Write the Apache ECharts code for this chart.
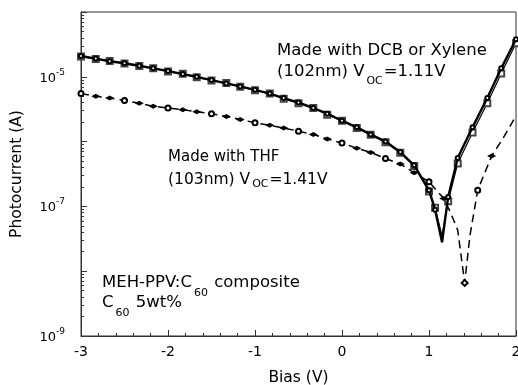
<!DOCTYPE html>
<html><head><meta charset="utf-8">
<script src="https://cdn.jsdelivr.net/npm/echarts@6/dist/echarts.min.js"></script>
<style>html,body{margin:0;padding:0;background:#fff}#c{width:518px;height:385px}</style>
</head><body><div id="c"></div>
<script>
// Bias values (V) for the DCB / Xylene curves
const biasSolid = [-3.00,-2.83,-2.67,-2.50,-2.33,-2.17,-2.00,-1.83,-1.67,-1.50,-1.33,-1.17,-1.00,-0.83,-0.67,-0.50,-0.33,-0.17,0.00,0.17,0.33,0.50,0.67,0.83,1.00,1.07,1.15,1.22,1.33,1.50,1.67,1.83,2.00];
// Photocurrent (A), DCB (circles)
const currentDCB = [2.09e-5,1.91e-5,1.74e-5,1.62e-5,1.48e-5,1.35e-5,1.23e-5,1.10e-5,1.00e-5,8.9e-6,7.9e-6,7.1e-6,6.3e-6,5.5e-6,4.7e-6,4.0e-6,3.3e-6,2.7e-6,2.1e-6,1.66e-6,1.29e-6,1.0e-6,6.9e-7,4.3e-7,1.78e-7,8.9e-8,2.8e-8,1.4e-7,5.6e-7,1.66e-6,4.7e-6,1.35e-5,3.8e-5];
// Photocurrent (A), Xylene (squares)
const currentXylene = [2.05e-5,1.88e-5,1.76e-5,1.60e-5,1.47e-5,1.36e-5,1.21e-5,1.11e-5,9.8e-6,8.8e-6,8.0e-6,7.0e-6,6.2e-6,5.5e-6,4.6e-6,3.9e-6,3.3e-6,2.6e-6,2.1e-6,1.62e-6,1.27e-6,9.8e-7,6.7e-7,4.2e-7,1.7e-7,9.5e-8,3.5e-8,1.2e-7,4.6e-7,1.38e-6,3.9e-6,1.12e-5,3.3e-5];
// Bias values (V) for the THF curve
const biasTHF = [-3.00,-2.83,-2.67,-2.50,-2.33,-2.17,-2.00,-1.83,-1.67,-1.50,-1.33,-1.17,-1.00,-0.83,-0.67,-0.50,-0.33,-0.17,0.00,0.17,0.33,0.50,0.67,0.83,1.00,1.17,1.25,1.33,1.41,1.47,1.56,1.72,1.85,2.00];
// Photocurrent (A), THF
const currentTHF = [5.5e-6,5.0e-6,4.7e-6,4.3e-6,3.9e-6,3.5e-6,3.3e-6,3.1e-6,2.9e-6,2.7e-6,2.45e-6,2.2e-6,1.95e-6,1.78e-6,1.62e-6,1.45e-6,1.29e-6,1.10e-6,9.5e-7,7.9e-7,6.8e-7,5.5e-7,4.5e-7,3.3e-7,2.4e-7,1.32e-7,7.9e-8,4.3e-8,6.6e-9,3.5e-8,1.78e-7,6.0e-7,1.12e-6,2.5e-6];
// Axis ticks
const yMajor = [1e-9,1e-8,1e-7,1e-6,1e-5,1e-4];
const yLabelled = [1e-9,1e-7,1e-5];
const yMinor = [];
yMajor.slice(0,5).forEach(d => { for (let k = 2; k <= 9; k++) yMinor.push(+(d*k).toPrecision(3)); });

const zip = (xs, ys) => xs.map((x, i) => [x, ys[i]]);
const FONT = '"DejaVu Sans", sans-serif';

const thfSymbol = (v, p) => {
  const x = v[0], i = p.dataIndex;
  if (x <= 1.0) return i % 3 === 0 ? 'emptyCircle' : 'diamond';
  if (x === 1.17 || x === 1.72) return 'diamond';
  if (x === 1.41) return 'emptyDiamond';
  if (x === 1.56) return 'emptyCircle';
  return 'none';
};
const thfSize = (v, p) => {
  const x = v[0], i = p.dataIndex;
  if (x === 1.41) return 6;
  if ((x <= 1.0 && i % 3 === 0) || x === 1.56) return 5;
  return [9, 5];
};

const chart = echarts.init(document.getElementById('c'), null, {renderer: 'canvas'});
// text block: main parts top-aligned, subscript pushed down by `drop`
const txt = (left, top, size, drop, parts) => ({
  type: 'text', left, top,
  style: {
    text: parts.map(p => Array.isArray(p) ? '{s|' + p[0] + '}' : '{m|' + p + '}').join(''),
    fill: '#000',
    rich: {
      m: {fontSize: size, fontFamily: FONT, color: '#000', lineHeight: size + 2, verticalAlign: 'top'},
      s: {fontSize: 11, fontFamily: FONT, color: '#000', lineHeight: 11, verticalAlign: 'top', padding: [drop, 1, 0, 2]}
    }
  }
});

chart.setOption({
  animation: false,
  backgroundColor: '#fff',
  grid: {left: 81, right: 2, top: 12, bottom: 49, outerBoundsMode: 'none', containLabel: false,
         show: true, borderColor: '#333', borderWidth: 1},
  xAxis: {
    type: 'value', min: -3, max: 2, interval: 1,
    name: 'Bias (V)', nameLocation: 'middle', nameGap: 34,
    nameTextStyle: {fontFamily: FONT, fontSize: 15.5, color: '#000'},
    axisLine: {onZero: false, lineStyle: {color: '#333'}},
    axisTick: {inside: true, length: 6, lineStyle: {color: '#333'}},
    minorTick: {show: true, splitNumber: 5, length: 3, lineStyle: {color: '#333'}},
    axisLabel: {fontFamily: FONT, fontSize: 14, color: '#000', margin: 9},
    splitLine: {show: false}
  },
  yAxis: [{
    type: 'log', logBase: 10, min: 1e-9, max: 1e-4,
    name: 'Photocurrent (A)', nameLocation: 'middle', nameGap: 56,
    nameTextStyle: {fontFamily: FONT, fontSize: 15.5, color: '#000'},
    axisLine: {onZero: false, lineStyle: {color: '#333'}},
    axisTick: {inside: true, length: 6, customValues: yMajor, lineStyle: {color: '#333'}},
    axisLabel: {
      customValues: yLabelled, margin: 16,
      formatter: v => '{b|10}{e|' + Math.round(Math.log10(v)) + '}',
      rich: {b: {fontFamily: FONT, fontSize: 13, color: '#000', lineHeight: 18, padding: [3, 0, 0, 0]},
             e: {fontFamily: FONT, fontSize: 9, color: '#000', lineHeight: 18, verticalAlign: 'top', padding: [0, 0, 6, 0]}}
    },
    splitLine: {show: false}
  }, {
    type: 'log', logBase: 10, min: 1e-9, max: 1e-4, position: 'left',
    axisLine: {show: false, onZero: false},
    axisTick: {inside: true, length: 3, customValues: yMinor, lineStyle: {color: '#333'}},
    axisLabel: {show: false},
    splitLine: {show: false}
  }],
  series: [{
    name: 'DCB', type: 'line', data: zip(biasSolid, currentDCB),
    lineStyle: {color: '#000', width: 2.4}, itemStyle: {color: '#000', borderWidth: 1},
    symbol: v => (v[0] === 1.15 ? 'none' : 'emptyCircle'), symbolSize: 4, z: 3
  }, {
    name: 'Xylene', type: 'line', data: zip(biasSolid, currentXylene),
    lineStyle: {color: '#000', width: 1.2}, itemStyle: {color: '#444', borderWidth: 1},
    symbol: v => (v[0] === 1.15 ? 'none' : 'emptyRect'), symbolSize: 6, z: 2
  }, {
    name: 'THF', type: 'line', data: zip(biasTHF, currentTHF),
    lineStyle: {color: '#000', width: 1.5, type: [8, 5]}, itemStyle: {color: '#000', borderWidth: 1},
    symbol: thfSymbol, symbolSize: thfSize, z: 4
  }],
  graphic: [
    txt(277, 42, 16.5, 0, ['Made with DCB or Xylene']),
    txt(277, 63, 16.5, 13, ['(102nm) V', ['OC'], '=1.11V']),
    txt(168, 150, 15, 0, ['Made with THF']),
    txt(168, 172, 15.5, 7, ['(103nm) V', ['OC'], '=1.41V']),
    txt(102, 274, 16.5, 14, ['MEH-PPV:C', ['60'], ' composite']),
    txt(102, 294, 16.5, 14, ['C', ['60'], ' 5wt%'])
  ]
});
</script></body></html>
